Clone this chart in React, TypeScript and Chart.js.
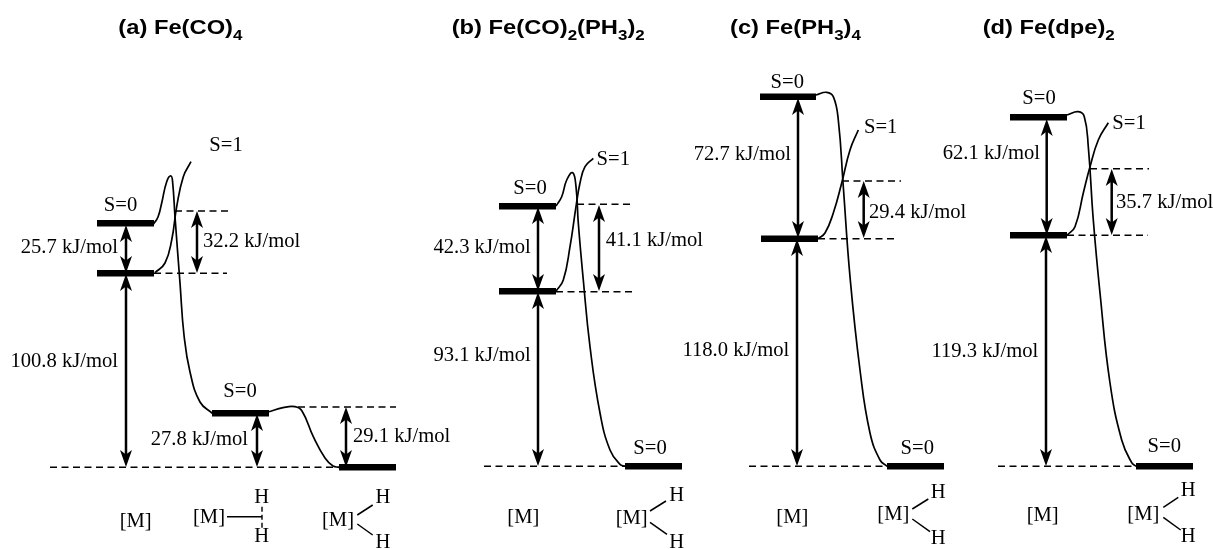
import React, { useEffect, useRef } from "react";
import { Chart, registerables } from "chart.js";

Chart.register(...registerables);

type Pt = [number, number];
type Seg = [number, number, number, number];

// thick energy levels: x0, x1, y (diagram units)
const levels: [number, number, number][] = [
  [97, 154, 223.3], [97, 154, 273.3], [212, 269, 413.3], [339, 396, 467.3],
  [499, 556, 206.3], [499, 556, 291.3], [625, 682, 466.3],
  [760, 816, 96.7], [761, 818, 238.7], [887, 944, 466.3],
  [1010, 1067, 117.3], [1010, 1067, 235.3], [1136, 1193, 466.3],
];

// dashed reference lines: x0, x1, y
const dashes: [number, number, number][] = [
  [50, 339, 467.3], [175, 232, 211], [154, 227, 273.3], [298, 396, 407],
  [484, 625, 466.3], [577, 634, 204.3], [556, 632, 291.7],
  [749, 887, 466.3], [842, 901, 181], [818, 898, 238.7],
  [998, 1136, 466.3], [1090, 1149, 168.7], [1067, 1148, 235.3],
];

// double arrows: x, yTop, yBottom
const arrows: [number, number, number][] = [
  [126, 225, 273], [126, 274, 467], [197, 211, 273], [257, 414, 467], [346, 407, 467],
  [538, 207, 291], [538, 292, 466], [599, 205, 291],
  [798, 98, 238], [797, 239, 466], [863.7, 181, 238],
  [1046.7, 119, 235], [1046, 236, 466], [1111.7, 169, 235],
];

// energy profiles
const curveA0: Pt[] = [[153.5, 224], [158, 217], [161.7, 203], [166.7, 181.7], [171, 176], [172.7, 183], [175, 216.7], [180, 283], [184, 335], [190, 372], [200, 402], [212.3, 413.3]];
const curveA0b: Pt[] = [[269, 411.7], [283, 407.7], [295, 406.7], [302, 411], [313.3, 436.7], [325, 458], [333, 466], [339, 467.3]];
const curveA1: Pt[] = [[155, 272.7], [165, 263], [171.7, 240], [176.7, 206.7], [183.3, 176.7], [191, 161.7]];
const curveB0: Pt[] = [[556, 206], [561.7, 196.7], [566.7, 180], [572.7, 172.7], [576, 186.7], [578.3, 223], [583.3, 280], [590, 346.7], [600, 413], [610, 450], [620, 464.3], [625, 466.3]];
const curveB1: Pt[] = [[556, 291.3], [563.3, 280], [570, 246.7], [576, 206.7], [580, 183], [585, 166.7], [593.3, 158.3]];
const curveC0: Pt[] = [[816, 95], [826.7, 92.3], [833.3, 96.7], [838.3, 120], [843.3, 186.7], [850, 276.7], [860, 370], [870, 433], [880, 460], [887, 466.3]];
const curveC1: Pt[] = [[818, 238.7], [825, 233], [833.3, 213], [841.7, 183], [850, 150], [858.3, 130]];
const curveD0: Pt[] = [[1067, 115], [1078.3, 111.7], [1084.3, 116.7], [1088.3, 146.7], [1093.3, 220], [1100, 293], [1110, 383], [1121.7, 440], [1131.7, 462.7], [1136, 466.3]];
const curveD1: Pt[] = [[1067, 235.3], [1075, 226.7], [1083.3, 193], [1090, 166.7], [1098.3, 140], [1108.3, 122.7]];
const curves = [curveA0, curveA0b, curveA1, curveB0, curveB1, curveC0, curveC1, curveD0, curveD1];

// molecule sketches
const bonds: Seg[] = [
  [227, 516.7, 262, 516.7],
  [357.3, 515, 372.7, 505], [357.3, 524, 372.7, 535],
  [650, 511, 666, 501], [650, 522.3, 667, 534.3],
  [912.3, 509, 928.3, 499], [912.3, 519, 930, 531.7],
  [1163.3, 507.3, 1178.3, 497.3], [1163.3, 517.3, 1180.7, 530],
];
const dashedBonds: Seg[] = [[262, 506.7, 262, 528]];

// text: label, x, y
const centerLabels: [string, number, number][] = [
  ["S=1", 226, 146], ["S=0", 120.5, 206], ["S=0", 240, 392],
  ["[M]", 135.7, 521.7], ["[M]", 209, 518], ["H", 261.7, 498], ["H", 261.7, 536.7],
  ["[M]", 338, 520.7], ["H", 383, 498], ["H", 383, 542.7],
  ["S=1", 613.3, 160], ["S=0", 530, 188.3], ["S=0", 650, 448.3],
  ["[M]", 523.3, 517.7], ["[M]", 631.7, 518.3], ["H", 676.7, 496], ["H", 676.7, 542.7],
  ["S=0", 787.3, 82.3], ["S=1", 880.7, 127.3], ["S=0", 917.3, 448.3],
  ["[M]", 792.3, 517.7], ["[M]", 893.3, 515], ["H", 938.3, 492.7], ["H", 938.3, 538.3],
  ["S=0", 1039, 98.3], ["S=1", 1129, 123.3], ["S=0", 1164.3, 446.7],
  ["[M]", 1042.7, 516], ["[M]", 1143.3, 514.3], ["H", 1188.3, 491], ["H", 1188.3, 536.7],
];
const rightLabels: [string, number, number][] = [
  ["25.7 kJ/mol", 118, 248], ["100.8 kJ/mol", 118, 362], ["27.8 kJ/mol", 248, 440],
  ["42.3 kJ/mol", 530.7, 247.3], ["93.1 kJ/mol", 530.7, 356],
  ["72.7 kJ/mol", 791, 154.3], ["118.0 kJ/mol", 789.3, 351],
  ["62.1 kJ/mol", 1040, 154], ["119.3 kJ/mol", 1038.3, 351.7],
];
const leftLabels: [string, number, number][] = [
  ["32.2 kJ/mol", 203, 241.7], ["29.1 kJ/mol", 353, 436.7],
  ["41.1 kJ/mol", 605.7, 241], ["29.4 kJ/mol", 869, 212.3], ["35.7 kJ/mol", 1116, 202.3],
];
// panel titles: [text, subscript?] runs, x
const titles: { x: number; runs: [string, boolean][] }[] = [
  { x: 118.3, runs: [["(a) Fe(CO)", false], ["4", true]] },
  { x: 451.7, runs: [["(b) Fe(CO)", false], ["2", true], ["(PH", false], ["3", true], [")", false], ["2", true]] },
  { x: 730, runs: [["(c) Fe(PH", false], ["3", true], [")", false], ["4", true]] },
  { x: 982.7, runs: [["(d) Fe(dpe)", false], ["2", true]] },
];
const titleBaseline = 33.5;

const SERIF = '"Liberation Serif", serif';
const SANS = '"Liberation Sans", sans-serif';
const LABEL_FONT = `20px ${SERIF}`;
const LABEL_STRETCH = 1.03;
const TITLE_STRETCH = 1.13;

const annotate = {
  id: "annotate",
  afterDatasetsDraw(chart: any) {
    const { ctx, scales } = chart;
    const X = (v: number) => scales.x.getPixelForValue(v);
    const Y = (v: number) => scales.y.getPixelForValue(v);
    ctx.save();
    ctx.fillStyle = "#000";
    const head = (x: number, tip: number, dir: number) => {
      const p = (dx: number, dy: number) => [x + dx, tip + dir * dy];
      ctx.beginPath();
      ctx.moveTo(...p(0, 0));
      ctx.lineTo(...p(6, 17));
      ctx.lineTo(...p(0, 12.5));
      ctx.lineTo(...p(-6, 17));
      ctx.closePath();
      ctx.fill();
    };
    arrows.forEach(([x, a, b]) => {
      head(X(x), Y(a), 1);
      head(X(x), Y(b), -1);
    });
    const text = (t: string, x: number, y: number, stretch: number) => {
      ctx.save();
      ctx.translate(x, y);
      ctx.scale(stretch, 1);
      ctx.fillText(t, 0, 0);
      ctx.restore();
    };
    ctx.textBaseline = "middle";
    ctx.font = LABEL_FONT;
    ctx.textAlign = "center";
    centerLabels.forEach(([t, x, y]) => text(t, X(x), Y(y), LABEL_STRETCH));
    ctx.textAlign = "right";
    rightLabels.forEach(([t, x, y]) => text(t, X(x), Y(y), LABEL_STRETCH));
    ctx.textAlign = "left";
    leftLabels.forEach(([t, x, y]) => text(t, X(x), Y(y), LABEL_STRETCH));
    ctx.textBaseline = "alphabetic";
    titles.forEach(({ x, runs }) => {
      let px = X(x);
      runs.forEach(([t, sub]) => {
        ctx.font = sub ? `bold 15px ${SANS}` : `bold 21px ${SANS}`;
        text(t, px, Y(titleBaseline) + (sub ? 6.5 : 0), TITLE_STRETCH);
        px += ctx.measureText(t).width * TITLE_STRETCH;
      });
    });
    ctx.restore();
  },
};

const line = (data: Pt[], extra: object) => ({
  data: data.map(([x, y]) => ({ x, y })),
  borderColor: "#000",
  pointRadius: 0,
  ...extra,
});

export default function App() {
  const ref = useRef<HTMLCanvasElement | null>(null);
  useEffect(() => {
    const datasets: any[] = [
      ...dashes.map(([a, b, y]) => line([[a, y], [b, y]], { borderWidth: 1.4, borderDash: [7, 4.5] })),
      ...dashedBonds.map(([a, b, c, d]) => line([[a, b], [c, d]], { borderWidth: 1.4, borderDash: [5, 3] })),
      ...bonds.map(([a, b, c, d]) => line([[a, b], [c, d]], { borderWidth: 1.5 })),
      ...arrows.map(([x, a, b]) => line([[x, a + 8], [x, b - 8]], { borderWidth: 2.5 })),
      ...curves.map((c) => line(c, { borderWidth: 1.7, tension: 0.45 })),
      ...levels.map(([a, b, y]) => line([[a, y], [b, y]], { borderWidth: 6.5, borderCapStyle: "butt" })),
    ];
    const chart = new Chart(ref.current as HTMLCanvasElement, {
      type: "line",
      data: { datasets },
      options: {
        animation: false,
        responsive: false,
        events: [],
        layout: { padding: 0 },
        plugins: { legend: { display: false }, tooltip: { enabled: false }, title: { display: false } },
        scales: {
          x: { type: "linear", min: 0, max: 1213, display: false },
          y: { type: "linear", min: 0, max: 549, reverse: true, display: false },
        },
      },
      plugins: [annotate],
    } as any);
    return () => chart.destroy();
  }, []);
  return (
    <div style={{ position: "fixed", left: 0, top: 0, width: 1213, height: 549, background: "#fff" }}>
      <canvas ref={ref} width={1213} height={549} style={{ display: "block" }} />
    </div>
  );
}
